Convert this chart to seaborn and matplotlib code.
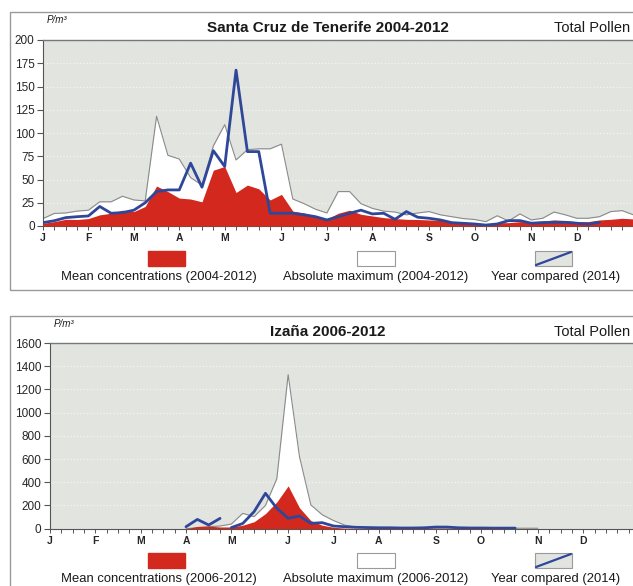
import numpy as np
import pandas as pd
import matplotlib
matplotlib.use("Agg")
import matplotlib.pyplot as plt
from matplotlib.patches import Rectangle
from matplotlib.lines import Line2D
import seaborn as sns

# weekly axis (week 0 = first week of January)
weeks = list(range(53))
month_labels = ["J", "F", "M", "A", "M", "J", "J", "A", "S", "O", "N", "D"]
month_weeks = [0, 4, 8, 12, 16, 21, 25, 29, 34, 38, 43, 47]

nan = np.nan

# Santa Cruz de Tenerife 2004-2012
tf_max = [8, 13.5, 14, 16, 17, 26, 26, 32, 28, 27,
          118, 76, 72, 52, 44, 86, 109, 71, 82, 83,
          83, 88, 29, 24, 18, 14, 37, 37, 24, 19,
          16, 15, 12, 14, 15.5, 12, 10, 8, 7, 4.7,
          11, 5.4, 13, 6.5, 8.3, 15, 12, 8.3, 8.3, 10,
          15.5, 16.5, 12]
tf_mean = [2.9, 4.7, 7.2, 7, 8, 12, 13.7, 17, 15.5, 21,
           43, 37, 30, 29, 26, 60, 64, 36, 44, 40,
           28, 34, 16, 14, 11, 7.6, 13.7, 17, 12.6, 10.8,
           9, 8, 7.2, 7, 6.5, 6, 4.7, 3.6, 2.9, 2.2,
           3.6, 3.6, 4.7, 4.7, 5.4, 6.5, 5.8, 4.7, 4.7, 6.5,
           7.2, 8.3, 7.6]
tf_2014 = [3.6, 5.7, 9, 10, 10.8, 21, 13.7, 14.4, 17, 25,
           37, 38.8, 38.8, 67.6, 41.7, 81, 64, 167.6, 80, 80,
           13.7, 13.7, 13.7, 12, 10, 6.5, 10, 13.7, 17, 13,
           13.7, 7.2, 15.5, 9.4, 8.3, 6.5, 3.6, 2.9, 2.2, 1,
           2.2, 5.8, 5.8, 3, 3.6, 4, 4, 3, 2, 4,
           nan, nan, nan]
tf_2014_seg = [1] * 53

# Izaña 2006-2012
iz_max = [nan] * 12 + [0, 8, 17, 23, 40, 132, 104, 200, 430, 1327,
                       620, 205, 120, 70, 30, 12, 8, 6, 5, 5,
                       5, 5, 6, 6, 5, 5, 4, 4, 4, 4,
                       4, 4] + [nan] * 9
iz_mean = [nan] * 12 + [0, 20, 22, 15, 15, 30, 60, 130, 230, 369,
                        180, 70, 30, 12, 5, 3, 2, 2, 2, 2,
                        2, 2, 2, 2, 2, 2, 2, 2, 2] + [nan] * 12
iz_2014 = [nan] * 12 + [17, 80, 32, 89, 10, 45, 147, 305, 176, 90,
                        109, 46, 52, 23, 17, 12, 10, 8, 8, 6,
                        6, 8, 14, 14, 8, 6, 6, 5, 5, 5] + [nan] * 11
iz_2014_seg = [1] * 16 + [2] * 37

RED = "#d2281e"
BLUE = "#2f4799"
GREY_LINE = "#8a8a8a"
PLOT_BG = "#e2e4e0"

sns.set_style("ticks")
plt.rcParams["font.family"] = ["Liberation Sans", "DejaVu Sans"]

W, H = 633, 586
fig = plt.figure(figsize=(W / 100, H / 100), dpi=100)


def fx(x):
    return x / W


def fy(y):
    return 1 - y / H


def draw_panel(frame, axbox, title, period, yticks, ylim,
               max_vals, mean_vals, cmp_vals, cmp_seg, ytext):
    # outer frame of the panel
    fl, ft, fr, fb = frame
    fig.add_artist(Rectangle((fx(fl), fy(fb)), fx(fr - fl), (fb - ft) / H,
                             transform=fig.transFigure, fill=False,
                             edgecolor="#9a9a9a", linewidth=1.0))

    left, top, right, bottom = axbox
    ax = fig.add_axes([fx(left), fy(bottom), fx(right - left), (bottom - top) / H])
    ax.set_facecolor(PLOT_BG)

    df = pd.DataFrame({
        "week": weeks,
        "max": max_vals,
        "mean": mean_vals,
        "cmp": cmp_vals,
        "seg": cmp_seg,
    })

    # absolute maximum: white area with grey outline
    ax.fill_between(df["week"], 0, df["max"], color="white", linewidth=0, zorder=1)
    sns.lineplot(data=df.dropna(subset=["max"]), x="week", y="max", ax=ax,
                 color=GREY_LINE, linewidth=0.8, zorder=2)
    # mean concentrations: red area
    ax.fill_between(df["week"], 0, df["mean"], color=RED, linewidth=0, zorder=3)
    # year compared
    sns.lineplot(data=df.dropna(subset=["cmp"]), x="week", y="cmp", units="seg",
                 estimator=None, ax=ax, color=BLUE, linewidth=2.0, zorder=4)

    ax.set_xlim(0, 52)
    ax.set_ylim(*ylim)
    ax.set_yticks(yticks)
    ax.set_yticklabels([str(t) for t in yticks])
    ax.set_xticks(month_weeks)
    ax.set_xticks(weeks, minor=True)
    ax.set_xticklabels(month_labels, fontweight="bold")
    ax.tick_params(axis="x", which="both", length=3, width=0.7, color="#555555",
                   labelsize=7.5, pad=2)
    ax.tick_params(axis="y", length=4, width=0.8, color="#555555",
                   labelsize=8.5, pad=2)
    ax.set_xlabel("")
    ax.set_ylabel("")
    ax.grid(axis="y", color="#f4f4f4", linestyle=":", linewidth=0.9)
    ax.set_axisbelow(True)
    for s in ["left", "bottom"]:
        ax.spines[s].set_color("#555555")
        ax.spines[s].set_linewidth(0.8)
    ax.spines["top"].set_color("#777777")
    ax.spines["top"].set_linewidth(1.0)
    ax.spines["right"].set_visible(False)
    ax.spines["top"].set_visible(True)

    # header texts
    fig.text(fx(328), fy(ft + 16), title, ha="center", va="center",
             fontsize=11, fontweight="bold", color="#1a1a1a")
    fig.text(fx(630), fy(ft + 16), "Total Pollen", ha="right", va="center",
             fontsize=10.5, color="#1a1a1a")
    fig.text(fx(left + 4), fy(ft + 8), "P/m³", ha="left", va="center",
             fontsize=7, color="#1a1a1a", style="italic")

    # legend
    py0, py1 = ytext - 26, ytext - 11
    boxes = [(148, 185), (357, 395), (535, 572)]
    fig.add_artist(Rectangle((fx(boxes[0][0]), fy(py1)), fx(37), (py1 - py0) / H,
                             transform=fig.transFigure, facecolor=RED, edgecolor=RED))
    fig.add_artist(Rectangle((fx(boxes[1][0]), fy(py1)), fx(38), (py1 - py0) / H,
                             transform=fig.transFigure, facecolor="white",
                             edgecolor="#9a9a9a", linewidth=0.8))
    fig.add_artist(Rectangle((fx(boxes[2][0]), fy(py1)), fx(37), (py1 - py0) / H,
                             transform=fig.transFigure, facecolor=PLOT_BG,
                             edgecolor="#9a9a9a", linewidth=0.8))
    fig.add_artist(Line2D([fx(boxes[2][0] + 1), fx(boxes[2][1] - 1)],
                          [fy(py1 - 1), fy(py0 + 1)], transform=fig.transFigure,
                          color=BLUE, linewidth=1.6))
    fig.text(fx(159), fy(ytext), f"Mean concentrations ({period})", ha="center",
             va="center", fontsize=9.4, color="#1a1a1a")
    fig.text(fx(376), fy(ytext), f"Absolute maximum ({period})", ha="center",
             va="center", fontsize=9.4, color="#1a1a1a")
    fig.text(fx(556), fy(ytext), "Year compared (2014)", ha="center",
             va="center", fontsize=9.4, color="#1a1a1a")
    return ax


draw_panel((10, 12, 700, 290), (43, 40, 633.5, 226),
           "Santa Cruz de Tenerife 2004-2012", "2004-2012",
           [0, 25, 50, 75, 100, 125, 150, 175, 200], (0, 200),
           tf_max, tf_mean, tf_2014, tf_2014_seg, 277)

draw_panel((10, 316, 700, 640), (49.8, 343, 640, 528.7),
           "Izaña 2006-2012", "2006-2012",
           [0, 200, 400, 600, 800, 1000, 1200, 1400, 1600], (0, 1600),
           iz_max, iz_mean, iz_2014, iz_2014_seg, 579)

fig.savefig("out.png", dpi=100)
plt.close(fig)
